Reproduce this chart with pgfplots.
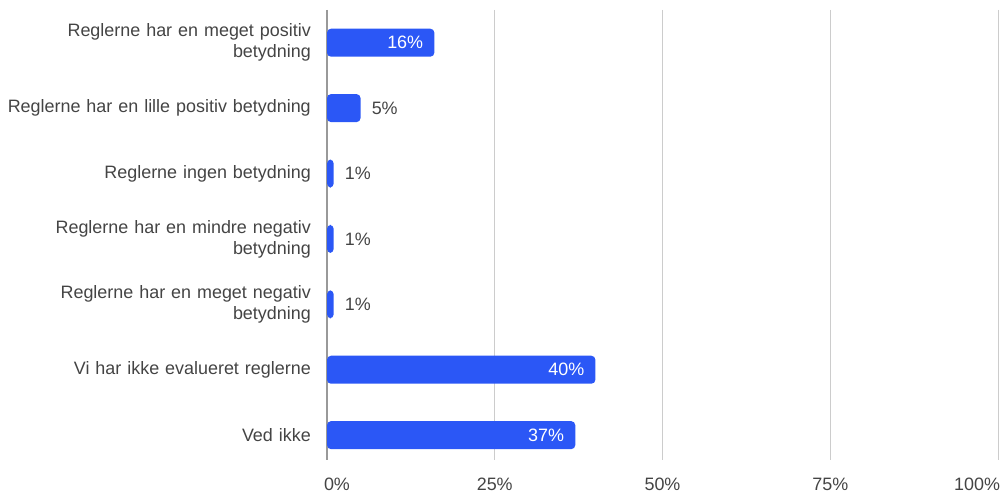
\documentclass[border=0pt]{standalone}
\usepackage{pgfplots}
\pgfplotsset{compat=1.18}
\usepackage{fontspec}
\setmainfont{Liberation Sans}
\definecolor{barblue}{HTML}{2B57F6}
\definecolor{labgray}{HTML}{444444}
\definecolor{gridgray}{HTML}{CCCCCC}
\definecolor{axisgray}{HTML}{999999}
\pgfplotsset{
    layers/grid below/.define layer set={
        axis background,axis grid,main,axis ticks,axis lines,
        axis tick labels,axis descriptions,axis foreground}{},
}
\begin{document}
\begin{tikzpicture}
\begin{axis}[
    set layers=grid below,
    scale only axis,
    width=671bp, height=450bp,
    xbar, bar width=28bp, bar shift=0pt,
    xmin=0, xmax=100,
    ymin=-0.5, ymax=6.38,
    y dir=reverse,
    ytick={0,...,6},
    yticklabels={
        Reglerne har en meget positiv\\betydning,
        Reglerne har en lille positiv betydning,
        Reglerne ingen betydning,
        Reglerne har en mindre negativ\\betydning,
        Reglerne har en meget negativ\\betydning,
        Vi har ikke evalueret reglerne,
        Ved ikke},
    xtick={0,25,50,75,100},
    xticklabels={\makebox[0pt][l]{\hspace*{-3bp}0\%},25\%,50\%,75\%,\makebox[0pt][r]{100\%\hspace*{-2bp}}},
    major tick length=0pt,
    xmajorgrids,
    grid style={gridgray, line width=1bp},
    axis x line*=bottom,
    axis y line*=left,
    x axis line style={draw=none},
    y axis line style={axisgray, line width=2bp},
    tick label style={font=\fontsize{18}{21}\selectfont, text=labgray},
    yticklabel style={align=right, text width=320bp, inner sep=0pt, xshift=-16bp},
    xticklabel style={inner sep=0pt, yshift=-18bp},
    /pgf/number format/assume math mode=true,
    point meta=x,
    nodes near coords={\pgfmathprintnumber{\pgfplotspointmeta}\%},
]
\addplot[fill=barblue, draw=none, rounded corners=4bp,
    every node near coord/.append style={anchor=east, xshift=-11bp, inner sep=0pt,
        text=white, font=\fontsize{18}{21}\selectfont}]
    coordinates {(16,0) (40,5) (37,6)};
\addplot[fill=barblue, draw=none, rounded corners=4bp,
    every node near coord/.append style={anchor=west, xshift=11bp, inner sep=0pt,
        text=labgray, font=\fontsize{18}{21}\selectfont}]
    coordinates {(5,1) (1,2) (1,3) (1,4)};
\end{axis}
\pgfresetboundingbox
\path[use as bounding box] (-327bp,-35bp) rectangle (677bp,460bp);
\end{tikzpicture}
\end{document}
